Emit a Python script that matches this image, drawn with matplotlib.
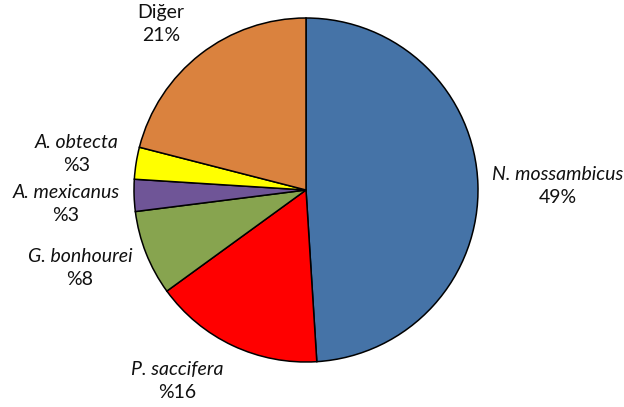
import matplotlib
matplotlib.use("Agg")
import matplotlib.pyplot as plt

# Species share data
species = ["N. mossambicus", "P. saccifera", "G. bonhourei", "A. mexicanus", "A. obtecta", "Diğer"]
shares = [49, 16, 8, 3, 3, 21]
pct_labels = ["49%", "%16", "%8", "%3", "%3", "21%"]
italic = [True, True, True, True, True, False]
colors = ["#4573A7", "#FF0000", "#87A44F", "#6F5597", "#FFFF00", "#DA823E"]

# label anchor positions (pixel space, y measured from top)
label_pos = [(558, 186), (177, 381), (80, 268), (66, 204), (77, 154), (161, 24)]

W, H = 624, 407
fig = plt.figure(figsize=(W / 100, H / 100), dpi=100)
ax = fig.add_axes([0, 0, 1, 1])

ax.pie(shares, colors=colors, startangle=90, counterclock=False,
       center=(306, H - 190), radius=172, frame=True,
       wedgeprops=dict(edgecolor="black", linewidth=1.1))
ax.set_xlim(0, W)
ax.set_ylim(0, H)
ax.set_aspect("equal")
ax.axis("off")

font = ["Lato", "DejaVu Sans"]
for name, pct, it, (x, y) in zip(species, pct_labels, italic, label_pos):
    ax.text(x, H - y + 11.5, name, ha="center", va="center", fontsize=14,
            style="italic" if it else "normal", family=font, color="#111111")
    ax.text(x, H - y - 11.5, pct, ha="center", va="center", fontsize=14,
            family=font, color="#111111")

fig.savefig("out.png", dpi=100)
